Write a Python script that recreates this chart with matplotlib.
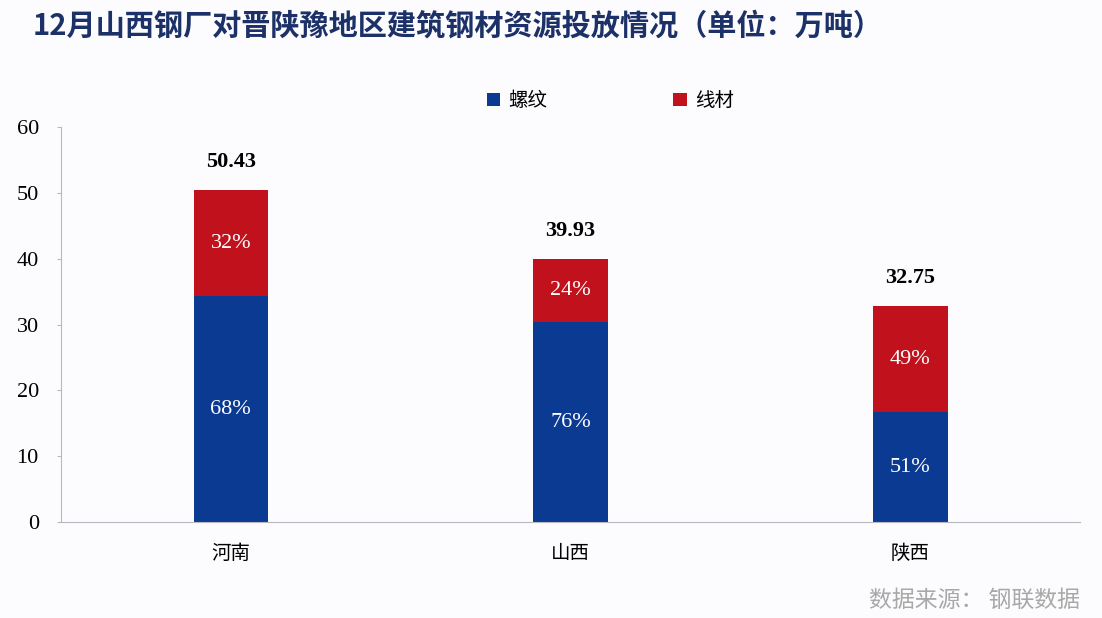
import matplotlib.pyplot as plt
import numpy as np

plt.rcParams['font.family'] = ['Noto Sans CJK SC', 'DejaVu Sans']

regions = ['河南', '山西', '陕西']
totals = [50.43, 39.93, 32.75]
rebar_share = [68, 76, 51]
wire_share = [32, 24, 49]
yticks = [0, 10, 20, 30, 40, 50, 60]

blue = '#0b3a93'
red = '#c0111c'

rebar = [t * s / 100 for t, s in zip(totals, rebar_share)]
wire = [t - r for t, r in zip(totals, rebar)]

fig = plt.figure(figsize=(11.02, 6.18), dpi=100, facecolor='#fcfcfe')
ax = fig.add_axes([0.0554, 0.155, 0.9246, 0.6395])
ax.set_facecolor('#fcfcfe')

x = np.arange(len(regions))
w = 0.22
ax.bar(x, rebar, w, color=blue, label='螺纹')
ax.bar(x, wire, w, bottom=rebar, color=red, label='线材')

serif = 'Liberation Serif'
for i in range(len(regions)):
    ax.text(x[i], rebar[i] / 2, f'{rebar_share[i]}%', ha='center', va='center',
            color='white', fontsize=16, family=serif)
    ax.text(x[i], rebar[i] + wire[i] / 2, f'{wire_share[i]}%', ha='center', va='center',
            color='white', fontsize=16, family=serif)
    ax.annotate(f'{totals[i]:.2f}', (x[i], totals[i]), xytext=(0, 13), textcoords='offset points',
                ha='center', va='bottom', fontsize=16, fontweight='bold', family=serif)

ax.set_xlim(-0.5, 2.5)
ax.set_ylim(0, 60)
ax.set_yticks(yticks)
ax.set_yticklabels([str(v) for v in yticks], family=serif, fontsize=16)
ax.set_xticks(x)
ax.set_xticklabels(regions, fontsize=14)
ax.tick_params(axis='x', length=0, pad=15)
ax.tick_params(axis='y', length=3, color='#b8b8c0', pad=13)

for s in ['top', 'right']:
    ax.spines[s].set_visible(False)
ax.spines['left'].set_color('#b8b8c0')
ax.spines['bottom'].set_color('#b8b8c0')

ax.legend(loc='lower center', bbox_to_anchor=(0.539, 0.995), ncol=2, frameon=False,
          fontsize=14, handlelength=0.7, handleheight=0.7, columnspacing=6.5, handletextpad=0.4)

fig.text(0.03, 0.958, '12月山西钢厂对晋陕豫地区建筑钢材资源投放情况（单位：万吨）',
         fontsize=21, fontweight='bold', color='#1c3168', va='center')
fig.text(0.98, 0.028, '数据来源： 钢联数据', fontsize=16.5, color='#a8a8a8', ha='right', va='center')

fig.savefig('out.png', dpi=100, facecolor=fig.get_facecolor())
